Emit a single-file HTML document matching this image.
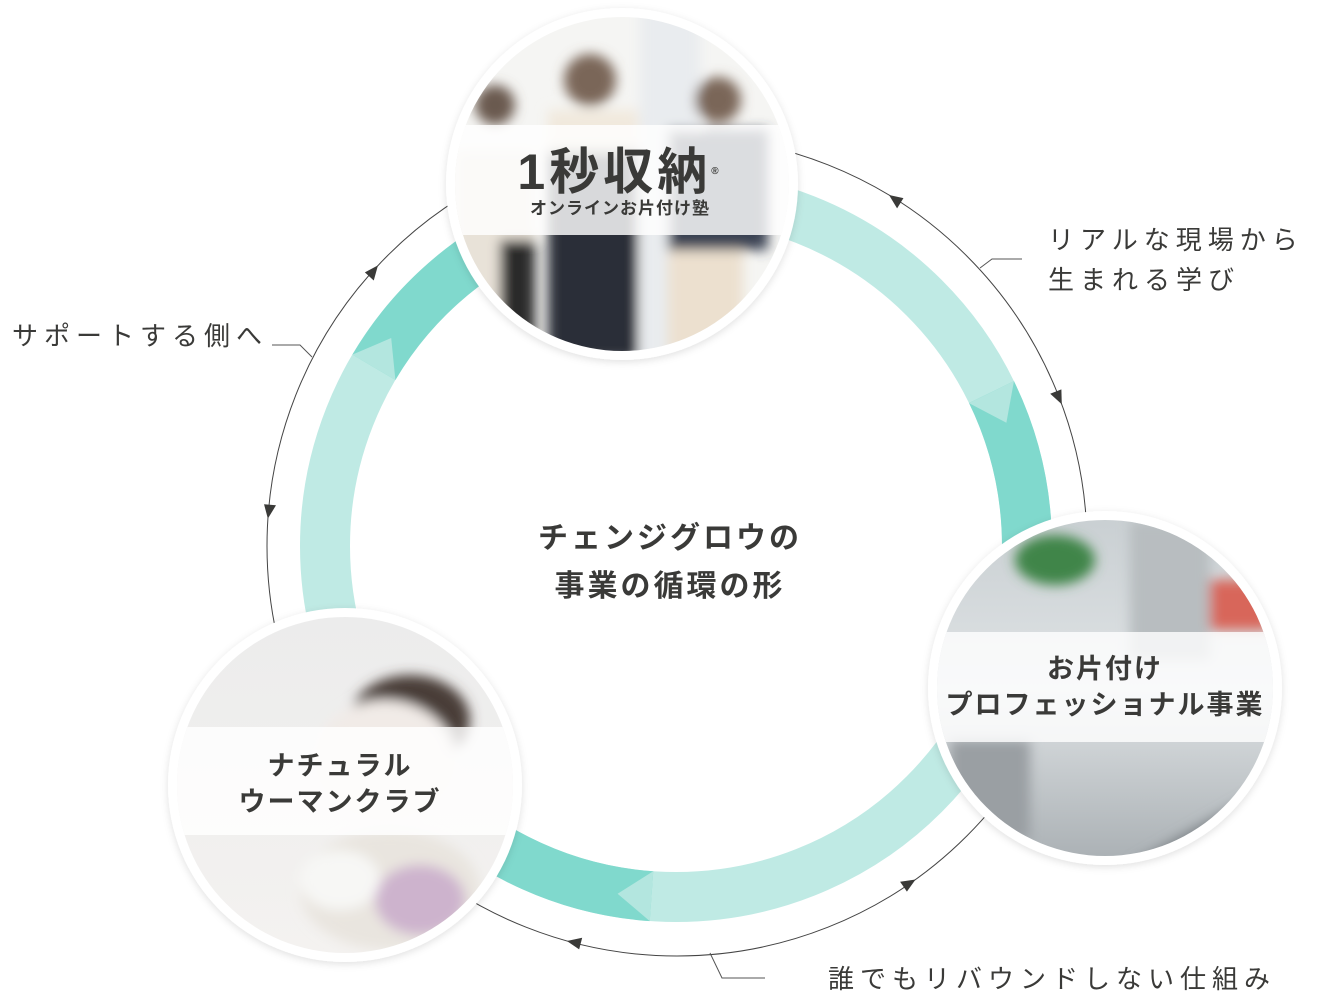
<!DOCTYPE html>
<html><head><meta charset="utf-8"><style>
html,body{margin:0;padding:0;background:#fff;}
body{width:1340px;height:1000px;overflow:hidden;position:relative;font-family:"Liberation Sans","Noto Sans CJK JP",sans-serif;color:#3a3a38;}
svg{position:absolute;left:0;top:0;}
.lbl{position:absolute;font-size:26px;letter-spacing:6px;color:#3a3a38;white-space:nowrap;line-height:40px;}
.ct{position:absolute;left:470px;width:400px;text-align:center;font-size:30px;font-weight:bold;letter-spacing:3px;color:#3a3a38;}
.band{position:absolute;text-align:center;font-weight:bold;color:#3a3a38;font-size:27px;letter-spacing:2px;line-height:36px;}
</style></head><body>
<svg width="1340" height="1000" viewBox="0 0 1340 1000">
<defs>
<filter id="sh" x="-20%" y="-20%" width="140%" height="140%"><feDropShadow dx="0" dy="2" stdDeviation="4" flood-color="#000" flood-opacity="0.12"/></filter>
<filter id="bl"><feGaussianBlur stdDeviation="6"/></filter>
<clipPath id="c1"><circle cx="622" cy="184" r="167"/></clipPath>
<clipPath id="c2"><circle cx="1105" cy="688" r="168"/></clipPath>
<clipPath id="c3"><circle cx="345" cy="785" r="168"/></clipPath>
<linearGradient id="g2" x1="0" y1="0" x2="0" y2="1"><stop offset="0" stop-color="#c9cfd2"/><stop offset="0.5" stop-color="#dfe3e5"/><stop offset="1" stop-color="#a9afb3"/></linearGradient>
<linearGradient id="g3" x1="0" y1="0" x2="0" y2="1"><stop offset="0" stop-color="#ececec"/><stop offset="1" stop-color="#f4f2f0"/></linearGradient>
</defs>
<circle cx="677" cy="546" r="410" fill="none" stroke="#444" stroke-width="1"/>
<circle cx="676" cy="546" r="351" fill="none" stroke="#bfeae4" stroke-width="50"/>
<path d="M651.5,896.2 A351 351 0 0 1 407.1,771.7" fill="none" stroke="#80d9cd" stroke-width="50"/>
<path d="M373.9,367.3 A351 351 0 0 1 556,216.2" fill="none" stroke="#80d9cd" stroke-width="50"/>
<path d="M991.5,392.1 A351 351 0 0 1 1005.8,666" fill="none" stroke="#80d9cd" stroke-width="50"/>
<g fill="#b3e6df">
<polygon points="1002,546 1052,546 1027,580" transform="rotate(94 676 546)"/>
<polygon points="1002,546 1052,546 1027,580" transform="rotate(210.6 676 546)"/>
<polygon points="1002,546 1052,546 1027,580" transform="rotate(334 676 546)"/>
</g>
<g fill="#3a3a38">
<polygon points="1080,539 1092,539 1087,553" transform="rotate(222.2 677 546)"/>
<polygon points="1080,553 1092,553 1087,539" transform="rotate(184.8 677 546)"/>
<polygon points="1080,553 1092,553 1087,539" transform="rotate(302.1 677 546)"/>
<polygon points="1080,539 1092,539 1087,553" transform="rotate(338.8 677 546)"/>
<polygon points="1080,553 1092,553 1087,539" transform="rotate(55.4 677 546)"/>
<polygon points="1080,539 1092,539 1087,553" transform="rotate(104.6 677 546)"/>
</g>
<g fill="none" stroke="#555" stroke-width="1">
<polyline points="980,268 992,259 1022,259"/>
<polyline points="312,357 300,345 272,345"/>
<polyline points="710,953 722,978 765,978"/>
</g>
<g filter="url(#sh)">
<circle cx="622" cy="184" r="176" fill="#fff"/>
<circle cx="1105" cy="688" r="177" fill="#fff"/>
<circle cx="345" cy="785" r="177" fill="#fff"/>
</g>
<g clip-path="url(#c1)">
<rect x="440" y="0" width="370" height="370" fill="#f5f5f3"/>
<g filter="url(#bl)">
<rect x="640" y="0" width="60" height="370" fill="#e9ecef"/>
<rect x="455" y="150" width="80" height="200" fill="#e8e2d8"/>
<rect x="500" y="240" width="35" height="100" fill="#2a2a2a"/>
<rect x="548" y="110" width="90" height="250" fill="#2b2f38"/>
<rect x="548" y="110" width="90" height="40" fill="#f1e9dd"/>
<rect x="668" y="130" width="100" height="120" fill="#3a4252"/>
<rect x="668" y="250" width="75" height="120" fill="#ece0cf"/>
<circle cx="590" cy="80" r="26" fill="#7a6658"/>
<circle cx="718" cy="100" r="23" fill="#7a6658"/>
<circle cx="495" cy="105" r="20" fill="#6a5a50"/>
</g>
<rect x="440" y="125" width="370" height="110" fill="#fff" fill-opacity="0.82"/>
</g>
<g clip-path="url(#c2)">
<rect x="930" y="515" width="350" height="350" fill="url(#g2)"/>
<g filter="url(#bl)">
<rect x="1130" y="520" width="80" height="140" fill="#b8bdc0"/>
<rect x="1210" y="580" width="60" height="50" fill="#d8665a"/>
<ellipse cx="1055" cy="560" rx="40" ry="25" fill="#3f8548"/>
<rect x="950" y="740" width="80" height="100" fill="#9a9fa3"/>
<polygon points="1130,865 1280,780 1280,865" fill="#7a8084"/>
</g>
<rect x="930" y="632" width="350" height="110" fill="#fff" fill-opacity="0.8"/>
</g>
<g clip-path="url(#c3)">
<rect x="170" y="610" width="350" height="350" fill="url(#g3)"/>
<g filter="url(#bl)">
<ellipse cx="410" cy="720" rx="60" ry="45" fill="#4a3e38"/>
<ellipse cx="385" cy="760" rx="70" ry="60" fill="#f1ebe7"/>
<ellipse cx="390" cy="890" rx="90" ry="60" fill="#e9e5df"/>
<ellipse cx="420" cy="900" rx="45" ry="35" fill="#cdb3cd"/>
<ellipse cx="340" cy="880" rx="40" ry="30" fill="#f7f7f5"/>
</g>
<rect x="170" y="727" width="350" height="108" fill="#fff" fill-opacity="0.82"/>
</g>
</svg>
<div class="band" style="left:470px;top:142px;width:300px;font-size:50px;line-height:60px;letter-spacing:4px;">1秒収納<span style="font-size:10px;vertical-align:top;">®</span></div>
<div class="band" style="left:470px;top:197px;width:300px;font-size:17px;line-height:24px;letter-spacing:1px;">オンラインお片付け塾</div>
<div class="band" style="left:935px;top:651px;width:340px;">お片付け<br>プロフェッショナル事業</div>
<div class="band" style="left:175px;top:748px;width:330px;">ナチュラル<br>ウーマンクラブ</div>
<div class="lbl" style="left:1048px;top:220px;">リアルな現場から<br>生まれる学び</div>
<div class="lbl" style="left:12px;top:316px;">サポートする側へ</div>
<div class="lbl" style="left:828px;top:959px;">誰でもリバウンドしない仕組み</div>
<div class="ct" style="top:513px;">チェンジグロウの</div>
<div class="ct" style="top:561px;">事業の循環の形</div>
</body></html>
